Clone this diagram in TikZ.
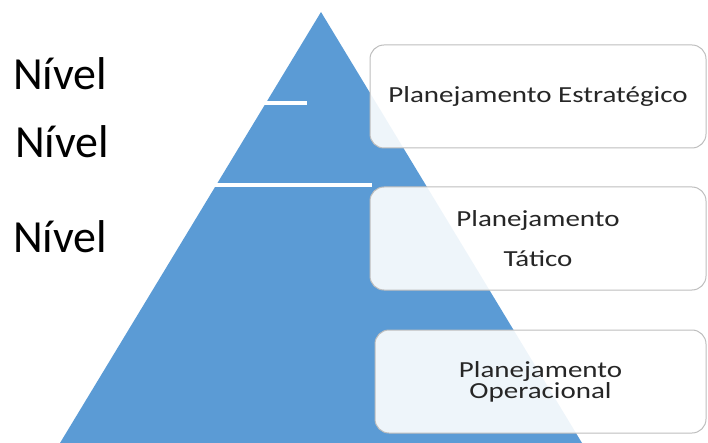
\documentclass[tikz,border=0pt]{standalone}
\usepackage{fontspec}
\setmainfont{Carlito}
\newfontfamily\boxfont[FakeStretch=1.26]{Carlito}

\definecolor{pyrblue}{HTML}{5B9BD5}
\definecolor{boxline}{HTML}{BDBDBD}

\tikzset{
  levelbox/.style={draw=boxline, line width=1pt, fill=white, fill opacity=0.9,
    text opacity=1, rounded corners=14pt, align=center, inner sep=0pt,
    font=\boxfont\fontsize{23}{19}\selectfont, text=black!85},
  leveltext/.style={anchor=base west, inner sep=0pt, font=\fontsize{46}{46}\selectfont},
  cutline/.style={white, line width=3.5pt}
}

\begin{document}
\begin{tikzpicture}[x=1pt,y=-1pt]
      \useasboundingbox (0,0) rectangle (708,443);
      % pyramid
      \fill[pyrblue] (321,12) -- (582,443) -- (60,443) -- cycle;
      % cuts
      \coordinate (cut1a) at (262,103);
      \coordinate (cut1b) at (307,103);
      \coordinate (cut2a) at (213,185);
      \coordinate (cut2b) at (372,185);
      \draw[cutline] (cut1a) -- (cut1b);
      \draw[cutline] (cut2a) -- (cut2b);
      % levels
      \node[leveltext] (niv1) at (13,90)  {Nível};
      \node[leveltext] (niv2) at (15,158) {Nível};
      \node[leveltext] (niv3) at (13,252) {Nível};
      % boxes
      \node[levelbox, minimum width=336pt, minimum height=103pt] (estr) at (538,96.5)
        {\raisebox{-4pt}{Planejamento Estratégico}};
      \node[levelbox, minimum width=336pt, minimum height=103pt] (tat) at (538,238.5)
        {Planejamento\\[19pt]Tático};
      \node[levelbox, minimum width=331pt, minimum height=103pt] (oper) at (540.5,381.5)
        {Planejamento\\Operacional};
    \end{tikzpicture}
\end{document}
